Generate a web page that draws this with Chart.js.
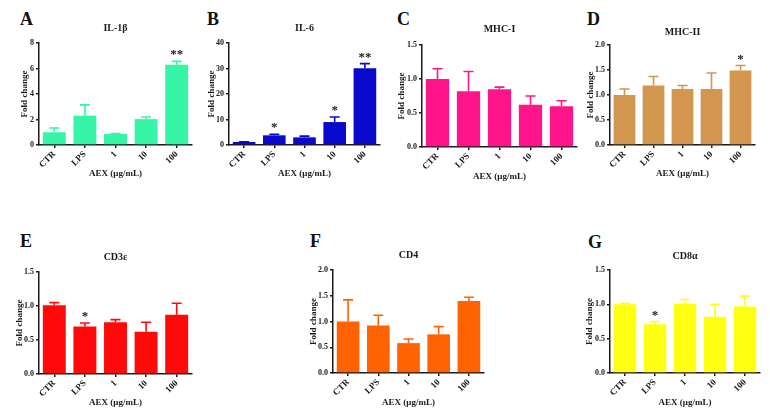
<!DOCTYPE html>
<html>
<head>
<meta charset="utf-8">
<script src="https://cdn.jsdelivr.net/npm/chart.js@4"></script>
<style>
  body { margin: 0; background: #fff; }
  #wrap { position: relative; width: 770px; height: 411px; overflow: hidden; background: #fff; }
  canvas { position: absolute; }
  .letter { position: absolute; font: bold 18px "Liberation Serif", "Times New Roman", serif; line-height: 18px; color: #111; }
</style>
</head>
<body>
<div id="wrap"></div>
<script>
// data: mean fold change and the SEM (upper bar only)
const categories = ['CTR', 'LPS', '1', '10', '100'];

const il1bMean = [1.0, 2.3, 0.87, 2.03, 6.3];
const il1bSem  = [0.33, 0.85, 0.02, 0.17, 0.26];
const il1bSig  = ['', '', '', '', '**'];

const il6Mean = [1.2, 3.8, 3.0, 9.0, 30.1];
const il6Sem  = [0.1, 0.4, 0.5, 2.0, 1.8];
const il6Sig  = ['', '*', '', '*', '**'];

const mhc1Mean = [1.0, 0.82, 0.85, 0.62, 0.6];
const mhc1Sem  = [0.15, 0.29, 0.03, 0.13, 0.08];
const mhc1Sig  = ['', '', '', '', ''];

const mhc2Mean = [1.0, 1.19, 1.12, 1.12, 1.49];
const mhc2Sem  = [0.12, 0.18, 0.07, 0.32, 0.1];
const mhc2Sig  = ['', '', '', '', '*'];

const cd3Mean = [1.01, 0.70, 0.76, 0.62, 0.87];
const cd3Sem  = [0.04, 0.05, 0.04, 0.14, 0.17];
const cd3Sig  = ['', '*', '', '', ''];

const cd4Mean = [1.0, 0.92, 0.58, 0.75, 1.4];
const cd4Sem  = [0.42, 0.2, 0.08, 0.15, 0.07];
const cd4Sig  = ['', '', '', '', ''];

const cd8Mean = [1.0, 0.71, 1.01, 0.82, 0.97];
const cd8Sem  = [0.01, 0.04, 0.06, 0.18, 0.15];
const cd8Sig  = ['', '*', '', '', ''];

const yMax   = [8, 40, 1.5, 2.0, 1.5, 2.0, 1.5];
const yStep  = [2, 10, 0.5, 0.5, 0.5, 0.5, 0.5];

const serif = '"Liberation Serif", "Times New Roman", serif';
const ink = '#1a1a1a';

// panel layout (pixel positions of axes and labels)
const panels = [
  { letter: 'A', lx: 20, ly: 10, title: 'IL-1β', mean: il1bMean, sem: il1bSem, sig: il1bSig, color: '#36F5A6', dec: 0,
    axisX: 39, top: 43, bottom: 145, right: 192, titleY: 28, yTitleX: 24, xTitleY: 174 },
  { letter: 'B', lx: 207, ly: 10, title: 'IL-6', mean: il6Mean, sem: il6Sem, sig: il6Sig, color: '#0A0ACD', dec: 0,
    axisX: 229, top: 43, bottom: 145, right: 380, titleY: 28, yTitleX: 211, xTitleY: 174 },
  { letter: 'C', lx: 397, ly: 10, title: 'MHC-I', mean: mhc1Mean, sem: mhc1Sem, sig: mhc1Sig, color: '#FF148A', dec: 1,
    axisX: 422, top: 45, bottom: 147, right: 577, titleY: 29, yTitleX: 401, xTitleY: 177 },
  { letter: 'D', lx: 587, ly: 10, title: 'MHC-II', mean: mhc2Mean, sem: mhc2Sem, sig: mhc2Sig, color: '#D3964F', dec: 1,
    axisX: 610, top: 45, bottom: 145, right: 755, titleY: 32, yTitleX: 590, xTitleY: 174 },
  { letter: 'E', lx: 20, ly: 232, title: 'CD3ε', mean: cd3Mean, sem: cd3Sem, sig: cd3Sig, color: '#FF0A0A', dec: 1,
    axisX: 39, top: 272, bottom: 374, right: 192, titleY: 257, yTitleX: 19, xTitleY: 403 },
  { letter: 'F', lx: 310, ly: 232, title: 'CD4', mean: cd4Mean, sem: cd4Sem, sig: cd4Sig, color: '#FF6200', dec: 1,
    axisX: 333, top: 270, bottom: 373, right: 484, titleY: 255, yTitleX: 313, xTitleY: 403 },
  { letter: 'G', lx: 588, ly: 233, title: 'CD8α', mean: cd8Mean, sem: cd8Sem, sig: cd8Sig, color: '#FFFF14', dec: 1,
    axisX: 610, top: 270, bottom: 373, right: 760, titleY: 256, yTitleX: 589, xTitleY: 403 }
];

const wrap = document.getElementById('wrap');
const titleSize = 10, axisSize = 9, tickSize = 9;

function errorBarPlugin(p) {
  return {
    id: 'errbars',
    afterDatasetsDraw(chart) {
      const ctx = chart.ctx;
      const y = chart.scales.y;
      const bars = chart.getDatasetMeta(0).data;
      ctx.save();
      ctx.strokeStyle = p.color;
      ctx.lineWidth = 1.6;
      bars.forEach((bar, i) => {
        const yTop = y.getPixelForValue(p.mean[i] + p.sem[i]);
        ctx.beginPath();
        ctx.moveTo(bar.x, bar.y);
        ctx.lineTo(bar.x, yTop);
        ctx.moveTo(bar.x - 5, yTop);
        ctx.lineTo(bar.x + 5, yTop);
        ctx.stroke();
        if (p.sig[i]) {
          ctx.fillStyle = ink;
          ctx.font = 'bold 13px ' + serif;
          ctx.textAlign = 'center';
          ctx.textBaseline = 'alphabetic';
          ctx.fillText(p.sig[i], bar.x, yTop + 3 - 6);
        }
      });
      ctx.restore();
    }
  };
}

panels.forEach((p, k) => {
  const lab = document.createElement('div');
  lab.className = 'letter';
  lab.textContent = p.letter;
  lab.style.left = p.lx + 'px';
  lab.style.top = p.ly + 'px';
  wrap.appendChild(lab);

  const tHalf = titleSize * 1.2 / 2, aHalf = axisSize * 1.2 / 2;
  const canvasTop = Math.round(p.titleY - tHalf);
  const canvasLeft = Math.round(p.yTitleX - aHalf);
  const canvasBottom = Math.round(p.xTitleY + aHalf);
  const canvasRight = Math.min(p.right + 10, 770);
  const c = document.createElement('canvas');
  c.width = canvasRight - canvasLeft;
  c.height = canvasBottom - canvasTop;
  c.style.left = canvasLeft + 'px';
  c.style.top = canvasTop + 'px';
  wrap.appendChild(c);

  const yW = p.axisX - canvasLeft;
  const xH = canvasBottom - p.bottom;
  const titlePad = p.top - canvasTop - tHalf * 2;

  new Chart(c, {
    type: 'bar',
    data: {
      labels: categories,
      datasets: [{
        data: p.mean,
        backgroundColor: p.color,
        borderWidth: 0,
        barPercentage: 0.75,
        categoryPercentage: 1
      }]
    },
    options: {
      responsive: false,
      animation: false,
      layout: { padding: { right: canvasRight - p.right } },
      plugins: {
        legend: { display: false },
        tooltip: { enabled: false },
        title: {
          display: true, text: p.title, fullSize: false, color: ink,
          font: { family: serif, size: titleSize, weight: 'bold' },
          padding: { top: 0, bottom: titlePad }
        }
      },
      scales: {
        x: {
          grid: { drawOnChartArea: false, offset: false, tickLength: 3, color: ink, lineWidth: 1.5 },
          border: { color: ink, width: 1.5 },
          ticks: { minRotation: 45, maxRotation: 45, padding: 1, color: ink,
                   font: { family: serif, size: tickSize, weight: 'bold' } },
          title: { display: true, text: 'AEX (μg/mL)', color: ink, padding: 0,
                   font: { family: serif, size: axisSize, weight: 'bold' } },
          afterFit(s) { s.height = xH; }
        },
        y: {
          min: 0, max: yMax[k],
          grid: { drawOnChartArea: false, tickLength: 3, color: ink, lineWidth: 1.5 },
          border: { color: ink, width: 1.5 },
          ticks: { stepSize: yStep[k], padding: 2, color: ink,
                   font: { family: serif, size: tickSize - 1, weight: 'bold' },
                   callback: v => Number(v).toFixed(p.dec) },
          title: { display: true, text: 'Fold change', color: ink, padding: 0,
                   font: { family: serif, size: axisSize, weight: 'bold' } },
          afterFit(s) { s.width = yW; }
        }
      }
    },
    plugins: [errorBarPlugin(p)]
  });
});
</script>
</body>
</html>
